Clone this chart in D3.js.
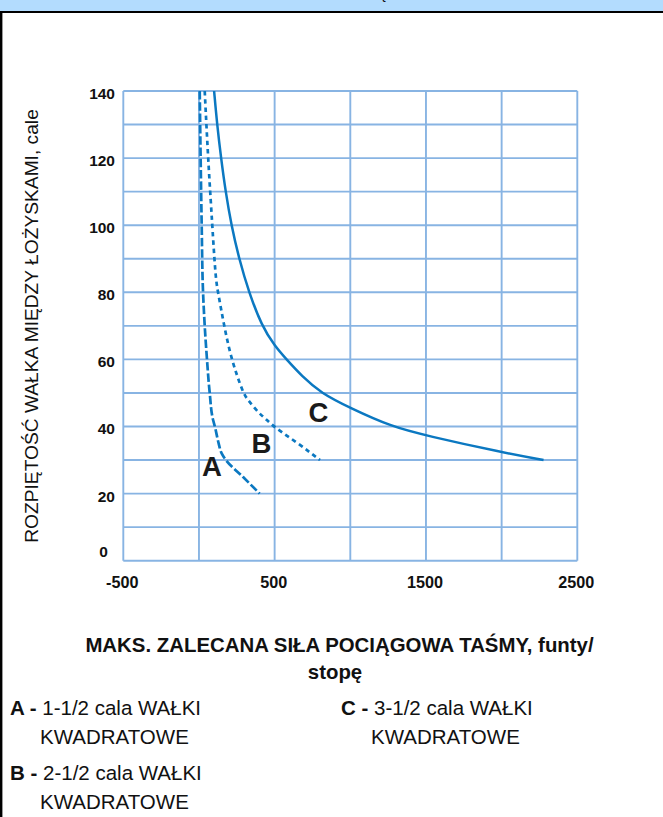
<!DOCTYPE html>
<html>
<head>
<meta charset="utf-8">
<script src="https://cdn.jsdelivr.net/npm/d3@7"></script>
<style>
  html, body { margin: 0; padding: 0; background: #fff; }
  svg { display: block; }
  text { font-family: "Liberation Sans", Arial, Helvetica, sans-serif; }
</style>
</head>
<body>
<svg id="chart" width="663" height="817"></svg>
<script>
// Axis ticks and grid
const xTickLabels = [-500, 500, 1500, 2500];
const xGridValues = [-500, 0, 500, 1000, 1500, 2000, 2500];
const yTickLabels = [0, 20, 40, 60, 80, 100, 120, 140];
const yGridValues = [0, 10, 20, 30, 40, 50, 60, 70, 80, 90, 100, 110, 120, 130, 140];

// Shaft span (in) vs. max recommended belt pull (lb/ft)
const spanA  = [140, 120, 100, 80, 70, 60, 50, 42, 40, 35, 32, 30, 25, 20];
const forceA = [5, 11, 18, 27, 38, 53, 71, 93, 105, 130, 150, 178, 290, 401];

const spanB  = [140, 120, 100, 84, 80, 70, 60, 50, 48, 44, 42, 40, 35, 30];
const forceB = [38, 60, 88, 110, 126, 166, 214, 291, 322, 395, 448, 492, 655, 800];

const spanC  = [140, 130, 120, 110, 100, 90, 80, 70, 64, 60, 55, 50, 45.5, 40, 37.3, 32.3, 30];
const forceC = [100, 120, 146, 176, 214, 265, 330, 415, 500, 578, 680, 805, 1000, 1270, 1500, 2000, 2277];

const curveNames = ["A", "B", "C"];
// Where each curve's letter sits, in data units [force, span]
const curveLabelAt = { A: [26, 25.2], B: [353, 32.2], C: [731, 41.4] };

const legendItems = [
  { key: "A -", text: "1-1/2 cala WAŁKI", text2: "KWADRATOWE" },
  { key: "B -", text: "2-1/2 cala WAŁKI", text2: "KWADRATOWE" },
  { key: "C -", text: "3-1/2 cala WAŁKI", text2: "KWADRATOWE" }
];

const yTitle = "ROZPIĘTOŚĆ WAŁKA MIĘDZY ŁOŻYSKAMI, cale";
const xTitle1 = "MAKS. ZALECANA SIŁA POCIĄGOWA TAŚMY, funty/";
const xTitle2 = "stopę";

const svg = d3.select("#chart");
const W = 663, H = 817;
const plot = { left: 123.3, right: 577.3, top: 91, bottom: 560.7 };
const blue = "#0b78c1";
const gridColor = "#88b4e3";

svg.append("rect").attr("width", W).attr("height", H).attr("fill", "#fff");

// Header band with frame
svg.append("rect").attr("x", 0).attr("y", 0).attr("width", W).attr("height", 11).attr("fill", "#b3dcfe");
svg.append("text").attr("x", 383).attr("y", -1).attr("text-anchor", "middle")
  .attr("font-size", 15).attr("font-weight", "bold").attr("fill", "#111").text("ę");
svg.append("line").attr("x1", 0).attr("x2", W).attr("y1", 12).attr("y2", 12)
  .attr("stroke", "#000").attr("stroke-width", 2.2);
svg.append("line").attr("x1", 1.2).attr("x2", 1.2).attr("y1", 11).attr("y2", H)
  .attr("stroke", "#000").attr("stroke-width", 2.4);

const x = d3.scaleLinear().domain([-500, 2500]).range([plot.left, plot.right]);
const y = d3.scaleLinear().domain([0, 140]).range([plot.bottom, plot.top]);

// Grid
const grid = svg.append("g");
grid.selectAll(".vg").data(xGridValues).join("line")
  .attr("x1", d => x(d)).attr("x2", d => x(d))
  .attr("y1", plot.top).attr("y2", plot.bottom)
  .attr("stroke", gridColor).attr("stroke-width", 1.9);
grid.selectAll(".hg").data(yGridValues).join("line")
  .attr("x1", plot.left).attr("x2", plot.right)
  .attr("y1", d => y(d)).attr("y2", d => y(d))
  .attr("stroke", gridColor).attr("stroke-width", 1.9);

// Axes (labels only; the grid acts as the frame)
const xAxis = d3.axisBottom(x).tickValues(xTickLabels).tickSize(0).tickPadding(0)
  .tickFormat(d => String(d));
const gx = svg.append("g").attr("transform", `translate(0,${plot.bottom})`).call(xAxis);
gx.select(".domain").remove();
gx.selectAll("text").attr("y", 27.8).attr("dy", null).attr("dx", -1.5)
  .attr("font-size", 16.2).attr("font-weight", "bold").attr("fill", "#111")
  .attr("font-family", "'Liberation Sans', Arial, sans-serif");

const yAxis = d3.axisLeft(y).tickValues(yTickLabels).tickSize(0).tickPadding(0)
  .tickFormat(d => String(d));
const gy = svg.append("g").attr("transform", `translate(${plot.left},0)`).call(yAxis);
gy.select(".domain").remove();
gy.selectAll("text")
  .attr("x", d => d === 0 ? -15.5 : -8.3)
  .attr("y", d => d === 0 ? -3.8 : 7.4)
  .attr("dy", null)
  .attr("font-size", 15.5).attr("font-weight", "bold").attr("fill", "#111")
  .attr("font-family", "'Liberation Sans', Arial, sans-serif");

// Curves
const toPoints = (spans, forces) => spans.map((s, i) => ({ span: s, force: forces[i] }));
const lineSharp = d3.line().x(d => x(d.force)).y(d => y(d.span)).curve(d3.curveMonotoneY);
const lineSmooth = d3.line().x(d => x(d.force)).y(d => y(d.span)).curve(d3.curveBasis);
const curves = [
  { name: "A", pts: toPoints(spanA, forceA), gen: lineSharp, dash: "8.5,2.8", width: 2.7 },
  { name: "B", pts: toPoints(spanB, forceB), gen: lineSmooth, dash: "4.5,3.8", width: 2.7 },
  { name: "C", pts: toPoints(spanC, forceC), gen: lineSmooth, dash: null, width: 2.5 }
];
svg.append("g").selectAll("path").data(curves).join("path")
  .attr("d", d => d.gen(d.pts))
  .attr("fill", "none").attr("stroke", blue)
  .attr("stroke-width", d => d.width)
  .attr("stroke-dasharray", d => d.dash);

// Curve letters
svg.append("g").selectAll("text").data(curveNames).join("text")
  .attr("x", d => x(curveLabelAt[d][0]) - 1)
  .attr("y", d => y(curveLabelAt[d][1]))
  .attr("font-size", 27.5).attr("font-weight", "bold").attr("fill", "#1a1a1a")
  .text(d => d);

// Axis titles
svg.append("text")
  .attr("transform", "translate(37.5,326) rotate(-90)")
  .attr("text-anchor", "middle").attr("font-size", 19.2).attr("fill", "#111")
  .text(yTitle);

svg.append("text").attr("x", 339.5).attr("y", 652).attr("text-anchor", "middle")
  .attr("font-size", 20.4).attr("font-weight", "bold").attr("fill", "#111").text(xTitle1);
svg.append("text").attr("x", 335).attr("y", 679).attr("text-anchor", "middle")
  .attr("font-size", 20.4).attr("font-weight", "bold").attr("fill", "#111").text(xTitle2);

// Legend
const legendPos = [
  { x: 10, y: 715 },
  { x: 10, y: 780 },
  { x: 341, y: 715 }
];
legendItems.forEach((item, i) => {
  const p = legendPos[i];
  const t = svg.append("text").attr("x", p.x).attr("y", p.y).attr("font-size", 20.5).attr("fill", "#111");
  t.append("tspan").attr("font-weight", "bold").text(item.key + " ");
  t.append("tspan").text(item.text);
  svg.append("text").attr("x", p.x + 30).attr("y", p.y + 29).attr("font-size", 20.5).attr("fill", "#111")
    .text(item.text2);
});
</script>
</body>
</html>
